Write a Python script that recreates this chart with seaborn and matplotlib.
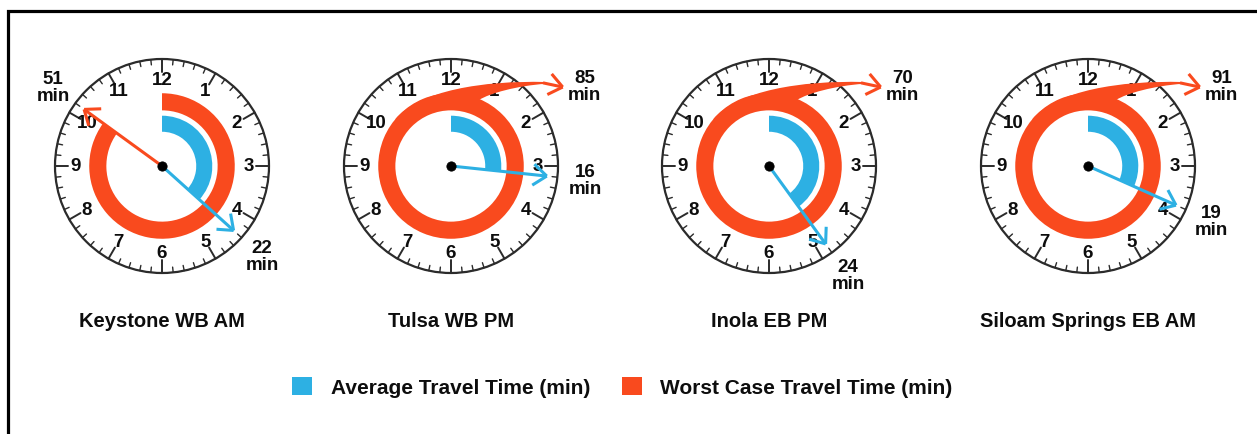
import numpy as np
import matplotlib
matplotlib.use("Agg")
import matplotlib.pyplot as plt
from matplotlib.patches import Wedge, Circle, PathPatch, Rectangle, Patch
from matplotlib.path import Path
import seaborn as sns

# ---- data -------------------------------------------------------------
routes = ["Keystone WB AM", "Tulsa WB PM", "Inola EB PM", "Siloam Springs EB AM"]
avg_min = [22, 16, 24, 19]
worst_min = [51, 85, 70, 91]
hour_labels = ["12", "1", "2", "3", "4", "5", "6", "7", "8", "9", "10", "11"]
legend_labels = ["Average Travel Time (min)", "Worst Case Travel Time (min)"]

# ---- style ------------------------------------------------------------
sns.set_theme(style="white")
BLUE = "#2DB0E3"
RED = "#F94A1E"
DIAL = "#2b2b2b"
TEXT = "#0d0d0d"
plt.rcParams["font.family"] = ["Liberation Sans", "DejaVu Sans"]

W, H, DPI = 1257, 435, 100
fig = plt.figure(figsize=(W / DPI, H / DPI), dpi=DPI)
fig.patch.set_facecolor("white")

R_PX = 107          # dial radius in pixels
CY = 167            # clock centre row (pixels from top)
centers_x = [162, 451, 769, 1088]
HALF = 150          # half size of each clock axes in pixels
LIM = HALF / R_PX

RING_OUT, RING_IN = 0.68, 0.52
AVG_OUT, AVG_IN = 0.47, 0.32
HAND_R = 0.90
LABEL_R = 1.26


def at_deg(r, deg):
    """Point at radius r, `deg` degrees clockwise from twelve o'clock."""
    a = np.deg2rad(deg)
    return np.array([r * np.sin(a), r * np.cos(a)])


def at_min(r, minutes):
    return at_deg(r, minutes * 6.0)


def chevron(ax, tip, direction, color, lw):
    """Open arrow head at `tip` pointing along `direction` (radians, math convention)."""
    back = direction + np.pi
    L = 0.16
    for s in (+1, -1):
        ang = back + s * np.deg2rad(38)
        ax.plot([tip[0], tip[0] + L * np.cos(ang)], [tip[1], tip[1] + L * np.sin(ang)],
                color=color, lw=lw, solid_capstyle="butt", clip_on=False, zorder=6)


def hand(ax, minutes, color, lw=2.2):
    tx, ty = at_min(HAND_R, minutes)
    ax.plot([0, tx], [0, ty], color=color, lw=lw, solid_capstyle="butt", zorder=6, clip_on=False)
    chevron(ax, (tx, ty), np.arctan2(ty, tx), color, lw)


def overflow_swoosh(ax):
    """Full ring spilling over the top of the dial and out to the right."""
    a0, a1 = -50.0, 23.0
    p0 = at_deg(RING_OUT, a0)
    t0 = np.array([np.cos(np.deg2rad(a0)), -np.sin(np.deg2rad(a0))])
    p1 = p0 + 0.35 * t0
    p2 = np.array([0.30, 0.80])
    p3 = np.array([0.88, 0.785])
    q0 = np.array([0.88, 0.768])
    q1 = np.array([0.62, 0.75])
    q2 = np.array([0.36, 0.68])
    q3 = at_deg(RING_OUT - 0.01, a1)
    arc = [at_deg(0.60, d) for d in np.linspace(a1, a0, 24)]
    verts = [p0, p1, p2, p3, q0, q1, q2, q3] + arc + [p0]
    codes = ([Path.MOVETO, Path.CURVE4, Path.CURVE4, Path.CURVE4, Path.LINETO,
              Path.CURVE4, Path.CURVE4, Path.CURVE4] + [Path.LINETO] * len(arc) + [Path.CLOSEPOLY])
    ax.add_patch(PathPatch(Path(verts, codes), facecolor=RED, edgecolor="none", zorder=3))
    tip = np.array([1.044, 0.738])
    start = np.array([0.86, 0.777])
    ax.plot([start[0], tip[0]], [start[1], tip[1]], color=RED, lw=2.2,
            solid_capstyle="butt", clip_on=False, zorder=6)
    d = tip - start
    chevron(ax, tip, np.arctan2(d[1], d[0]), RED, 2.2)


for i, (route, avg, worst) in enumerate(zip(routes, avg_min, worst_min)):
    cx = centers_x[i]
    ax = fig.add_axes([(cx - HALF) / W, (H - CY - HALF) / H, 2 * HALF / W, 2 * HALF / H])
    ax.set_xlim(-LIM, LIM)
    ax.set_ylim(-LIM, LIM)
    ax.set_aspect("equal")
    ax.axis("off")

    # dial
    ax.add_patch(Circle((0, 0), 1.0, facecolor="white", edgecolor=DIAL, lw=1.6, zorder=1))
    for m in range(60):
        inner = 0.88 if m % 5 == 0 else 0.95
        x0, y0 = at_min(inner, m)
        x1, y1 = at_min(1.0, m)
        ax.plot([x0, x1], [y0, y1], color=DIAL, lw=1.0 if m % 5 else 1.4, zorder=1)
    for h, lab in enumerate(hour_labels):
        x, y = at_min(0.81, h * 5)
        ax.text(x, y, lab, ha="center", va="center", fontsize=13.5, fontweight="bold",
                color=TEXT, zorder=2)

    # worst case ring
    if worst <= 60:
        ax.add_patch(Wedge((0, 0), RING_OUT, 90 - 6 * worst, 90, width=RING_OUT - RING_IN,
                           facecolor=RED, edgecolor="none", zorder=3))
    else:
        ax.add_patch(Wedge((0, 0), RING_OUT, 0, 360, width=RING_OUT - RING_IN,
                           facecolor=RED, edgecolor="none", zorder=3))

    # average ring
    ax.add_patch(Wedge((0, 0), AVG_OUT, 90 - 6 * avg, 90, width=AVG_OUT - AVG_IN,
                       facecolor=BLUE, edgecolor="none", zorder=3))

    # hands and value labels
    if worst <= 60:
        hand(ax, worst, RED)
        lx, ly = at_min(LABEL_R, worst)
    else:
        overflow_swoosh(ax)
        lx, ly = 1.247, 0.745
    ax.text(lx, ly, f"{worst}\nmin", ha="center", va="center", fontsize=13.5,
            fontweight="bold", color=TEXT, linespacing=1.0, clip_on=False, zorder=7)

    hand(ax, avg, BLUE)
    lx, ly = at_min(LABEL_R, avg)
    ax.text(lx, ly, f"{avg}\nmin", ha="center", va="center", fontsize=13.5,
            fontweight="bold", color=TEXT, linespacing=1.0, clip_on=False, zorder=7)

    sns.scatterplot(x=[0], y=[0], ax=ax, s=45, color="black", edgecolor="black",
                    zorder=8, legend=False)

    ax.text(0, -(322 - CY) / R_PX, route, ha="center", va="center", fontsize=14.5,
            fontweight="bold", color=TEXT, clip_on=False)

# legend
handles = [Patch(facecolor=BLUE, edgecolor="none"), Patch(facecolor=RED, edgecolor="none")]
leg_font = {"family": ["Liberation Sans"], "weight": "bold", "size": 15}
fig.legend(handles, legend_labels, loc="center", bbox_to_anchor=(622.5 / W, (H - 388) / H),
           ncol=2, frameon=False, prop=leg_font, handlelength=0.96, handleheight=0.96,
           handletextpad=0.9, columnspacing=1.5, labelcolor=TEXT)

# outer frame
fig.patches.append(Rectangle((8 / W, -0.1), 1.2, (H - 11.5) / H + 0.1, transform=fig.transFigure,
                             facecolor="none", edgecolor="black", lw=2.3, zorder=10))

fig.savefig("out.png", dpi=DPI, facecolor="white")
